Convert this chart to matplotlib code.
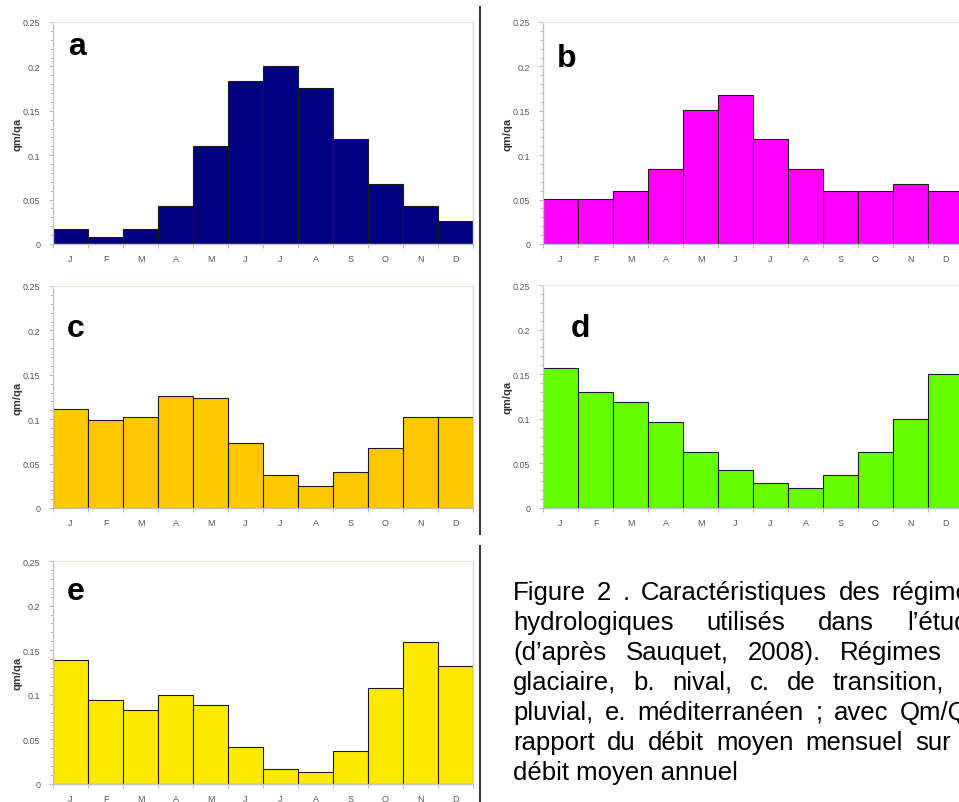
import matplotlib
matplotlib.use('Agg')
import matplotlib.pyplot as plt
import numpy as np
from matplotlib.lines import Line2D
from matplotlib.ticker import MultipleLocator, FixedLocator

plt.rcParams['font.family'] = ['Liberation Sans', 'DejaVu Sans']

months = ['J', 'F', 'M', 'A', 'M', 'J', 'J', 'A', 'S', 'O', 'N', 'D']

# qm/qa per month
glaciaire = [0.017, 0.008, 0.017, 0.043, 0.110, 0.184, 0.200, 0.176, 0.118, 0.068, 0.043, 0.026]
nival = [0.051, 0.051, 0.060, 0.085, 0.151, 0.168, 0.118, 0.085, 0.060, 0.060, 0.068, 0.060]
transition = [0.112, 0.099, 0.103, 0.126, 0.124, 0.073, 0.037, 0.025, 0.040, 0.068, 0.103, 0.103]
pluvial = [0.157, 0.130, 0.119, 0.096, 0.063, 0.043, 0.028, 0.022, 0.037, 0.063, 0.100, 0.150]
mediterraneen = [0.139, 0.094, 0.083, 0.100, 0.089, 0.041, 0.017, 0.013, 0.037, 0.108, 0.159, 0.132]

panels = ['a', 'b', 'c', 'd', 'e']
colors = ['#000080', '#ff00ff', '#ffc800', '#66ff00', '#ffea00']

caption_lines = [
    "Figure 2 . Caractéristiques des régimes",
    "hydrologiques utilisés dans l’étude",
    "(d’après Sauquet, 2008). Régimes a.",
    "glaciaire, b. nival, c. de transition, d.",
    "pluvial, e. méditerranéen ; avec Qm/Qa",
    "rapport du débit moyen mensuel sur le",
    "débit moyen annuel",
]

W, H = 959, 803
fig = plt.figure(figsize=(W / 100, H / 100), dpi=100)
fig.patch.set_facecolor('white')

def px_axes(left, top, right, bottom):
    return fig.add_axes([left / W, 1 - bottom / H, (right - left) / W, (bottom - top) / H])

# axes boxes in pixels (left, top, right, bottom), and panel letter position
boxes = [(53, 23, 473, 245), (543, 23, 963, 245),
         (53, 287, 473, 509), (543, 286, 963, 509),
         (53, 562, 473, 785)]
letter_pos = [(68, 55), (557, 67), (67, 337), (571, 337), (67, 600)]
series = [glaciaire, nival, transition, pluvial, mediterraneen]

x = np.arange(len(months))
for box, vals, col, lab, lp in zip(boxes, series, colors, panels, letter_pos):
    ax = px_axes(*box)
    ax.bar(x, vals, width=1.0, color=col, edgecolor='#1a1a1a', linewidth=0.8, zorder=2)
    ax.set_xlim(-0.5, 11.5)
    ax.set_ylim(0, 0.25)
    ax.set_yticks([0, 0.05, 0.1, 0.15, 0.2, 0.25])
    ax.set_yticklabels(['0', '0.05', '0.1', '0.15', '0.2', '0.25'])
    ax.yaxis.set_minor_locator(MultipleLocator(0.01))
    ax.set_xticks(x)
    ax.set_xticklabels(months)
    ax.xaxis.set_minor_locator(FixedLocator(np.arange(-0.5, 12, 1)))
    ax.tick_params(axis='both', which='major', labelsize=6.5, labelcolor='#555555', color='#aaaaaa')
    ax.tick_params(axis='y', which='major', length=3, width=0.6, pad=6)
    ax.tick_params(axis='y', which='minor', length=2, width=0.6, color='#aaaaaa')
    ax.tick_params(axis='x', which='major', length=0, pad=7)
    ax.tick_params(axis='x', which='minor', length=3, width=0.6, color='#aaaaaa')
    ax.set_ylabel('qm/qa', fontsize=8, fontweight='bold', color='#333333', labelpad=0.5)
    ax.spines['left'].set_color('#c4c4c4')
    ax.spines['bottom'].set_color('#c4c4c4')
    ax.spines['top'].set_color('#e6ead6')
    ax.spines['right'].set_color('#d4d4d4')
    for s in ax.spines.values():
        s.set_linewidth(1.0)
    fig.text(lp[0] / W, 1 - lp[1] / H, lab, fontsize=23, fontweight='bold',
             ha='left', va='baseline')

# separator line
fig.add_artist(Line2D([480 / W, 480 / W], [1 - 8 / H, 1 - 535 / H], color='#3a3a3a', lw=1.5))
fig.add_artist(Line2D([480 / W, 480 / W], [1 - 547 / H, 0], color='#3a3a3a', lw=1.5))

# justified caption
fs = 18.5
cap_left, cap_width = 513, 470
fig.canvas.draw()
r = fig.canvas.get_renderer()

def text_w(s):
    t = fig.text(0, 0, s, fontsize=fs)
    w = t.get_window_extent(r).width
    t.remove()
    return w

for i, line in enumerate(caption_lines):
    y = 1 - (600 + 30 * i) / H
    words = line.split(' ')
    if i == len(caption_lines) - 1:
        fig.text(cap_left / W, y, line, fontsize=fs, va='baseline')
        continue
    widths = [text_w(wd) for wd in words]
    gap = (cap_width - sum(widths)) / (len(words) - 1)
    xp = cap_left
    for wd, ww in zip(words, widths):
        fig.text(xp / W, y, wd, fontsize=fs, va='baseline')
        xp += ww + gap

fig.savefig('out.png', dpi=100)
